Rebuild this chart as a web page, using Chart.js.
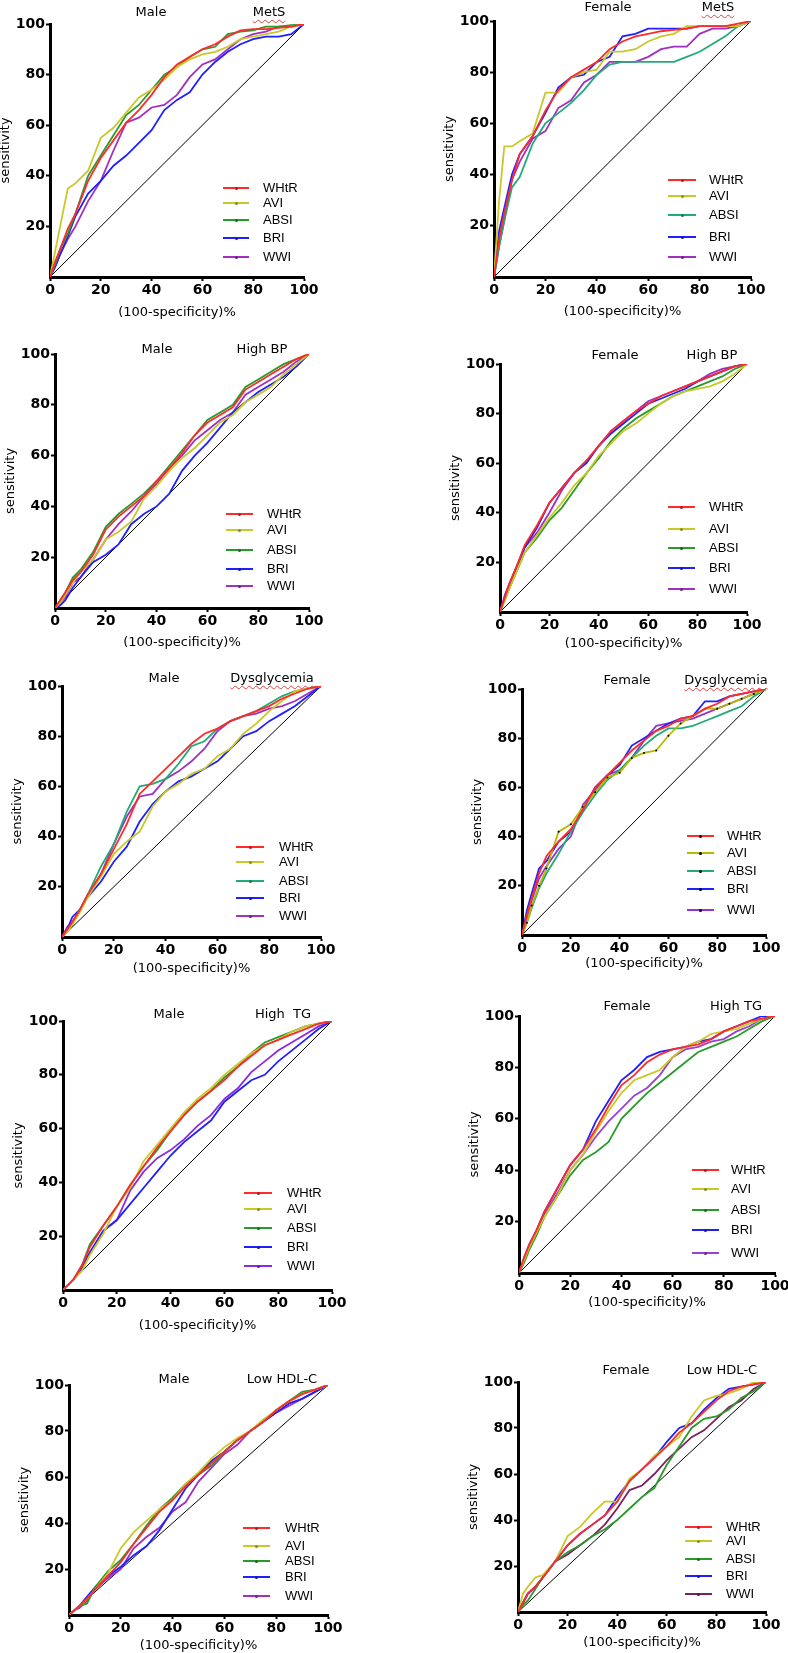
<!DOCTYPE html>
<html><head><meta charset="utf-8">
<script src="https://cdn.jsdelivr.net/npm/chart.js@4.4.1/dist/chart.umd.min.js"></script>
<style>
html,body{margin:0;padding:0;background:#fff;width:788px;height:1653px;overflow:hidden;position:relative}
.cv{position:absolute}
.t{position:absolute;transform:translate(-50%,-50%);font:13px "DejaVu Sans";white-space:pre;color:#000}
.wavy{text-decoration:underline wavy #e04040;text-decoration-thickness:1px;text-underline-offset:3px}
.lg{position:absolute;height:2px}
.dot{position:absolute;width:3px;height:3px;border-radius:50%}
.lt{position:absolute;font:13px "Liberation Sans";line-height:16px;color:#000;white-space:pre}
</style></head><body>
<script>
// ---------- DATA ----------
const X = [0,2,4,7,10,15,20,25,30,35,40,45,50,55,60,65,70,75,80,85,90,95,100];
const seriesNames = ['WHtR','AVI','ABSI','BRI','WWI'];
const xTicks = [0,20,40,60,80,100];
const yTicks = [20,40,60,80,100];

// Male MetS
const mMetS_WHtR = [0,6,11,19,25,38,47,54,61,66,72,79,84,87,90,92,95,97.5,98,98,98.5,99,100];
const mMetS_AVI  = [0,10,20,35,37,42,55,59,65,71,74,78,83,86,88,89,91,94,95,96,97,99,100];
const mMetS_ABSI = [0,5,11,17,25,40,48,56,64,68,74,80,83,87,90,91,96,97,97.5,99,99,99.5,100];
const mMetS_BRI  = [0,4,9,16,24,33,38,44,48,53,58,66,70,73,80,85,89,92,94,95,95,96,100];
const mMetS_WWI  = [0,4,9,15,20,30,38,50,61,63,67,68,72,79,84,86,90,94,96,97,99,99,100];
// Female MetS
const fMetS_WHtR = [0,15,25,38,48,55,65,73,78,81,84,89,92,94,95,96,96.5,97,98,98,98,99,100];
const fMetS_AVI  = [0,30,51,51,53,56,72,72,78,80,81,88,88,89,92,94,95,98,98,98,98,98,100];
const fMetS_ABSI = [0,12,22,35,39,52,60,64,68,73,79,83,84,84,84,84,84,86,88,91,94,98,100];
const fMetS_BRI  = [0,18,27,40,48,55,64,74,78,79,84,86,94,95,97,97,97,97,98,98,98,98,100];
const fMetS_WWI  = [0,12,22,38,45,54,57,66,69,76,79,84,84,84,86,89,90,90,95,97,97,98,100];
// Male High BP
const mBP_WHtR = [0,3,6,11,14,21,31,36,40,44,50,55,61,68,73,76,79,86,89,92,95,98,100];
const mBP_AVI  = [0,2,5,10,14,19,27,30,34,43,48,54,59,63,68,73,76,81,84,87,92,96,100];
const mBP_ABSI = [0,3,6,12,15,22,32,37,41,45,50,56,62,68,74,77,80,87,90,93,96,98,100];
const mBP_BRI  = [0,1,3,8,12,18,21,25,33,37,40,45,54,60,65,71,77,81,85,88,91,95,100];
const mBP_WWI  = [0,2,4,10,12,19,27,33,38,44,49,55,60,66,70,74,77,84,87,90,93,97,100];
// Female High BP
const fBP_WHtR = [0,6,12,19,27,35,44,50,56,61,67,73,77,81,84,87,89,91,93,95,97,99,100];
const fBP_AVI  = [0,5,10,17,24,31,38,44,51,56,63,68,73,76,80,84,87,89,90,91,93,96,100];
const fBP_ABSI = [0,5,10,17,24,30,37,42,49,56,62,69,74,78,81,84,87,89,91,93,95,98,100];
const fBP_BRI  = [0,6,11,18,26,34,44,50,56,60,67,72,76,80,84,86,88,90,93,95,97,99,100];
const fBP_WWI  = [0,7,12,19,26,32,40,49,56,61,67,73,77,81,85,87,89,91,93,96,98,99,100];
// Male Dysglycemia
const mDG_WHtR = [0,3,6,11,17,25,35,45,57,62,67,72,77,81,83,86,88,90,92,95,97,99,100];
const mDG_AVI  = [0,2,5,10,16,24,33,38,42,52,58,61,65,67,72,75,81,85,90,94,98,99,100];
const mDG_ABSI = [0,2,5,11,17,28,37,50,60,61,63,69,76,78,83,86,88,90,93,96,98,99,100];
const mDG_BRI  = [0,3,8,11,16,22,30,36,46,53,58,62,64,67,70,75,80,82,86,89,92,96,100];
const mDG_WWI  = [0,4,6,11,17,25,37,48,56,57,63,66,70,75,82,86,88,89,91,92,94,97,100];
// Female Dysglycemia
const fDG_WHtR = [0,8,15,25,32,38,43,51,60,65,70,75,79,83,85,88,89,92,94,97,98,99,100];
const fDG_AVI  = [0,5,12,20,27,42,45,52,58,64,66,72,74,75,81,86,89,92,92,94,96,98,100];
const fDG_ABSI = [0,5,11,19,25,33,42,50,57,63,67,72,77,81,84,84,85,87,89,91,93,97,100];
const fDG_BRI  = [0,10,17,27,30,38,42,51,60,65,69,77,80,83,86,88,89,95,95,97,98,99,100];
const fDG_WWI  = [0,7,14,23,28,35,40,53,59,65,67,72,79,85,86,87,88,90,92,94,96,98,100];
// Male High TG
const mTG_WHtR = [0,2,4,9,16,24,31,39,46,53,59,65,70,74,78,83,87,91,93,95,97,99,100];
const mTG_AVI  = [0,2,4,7,13,21,31,38,48,54,60,66,71,75,80,84,88,91,93,96,98,99,100];
const mTG_ABSI = [0,2,4,9,17,24,31,39,46,52,59,65,70,74,79,83,88,92,94,96,98,99,100];
const mTG_BRI  = [0,2,4,8,14,22,26,32,38,44,50,55,59,63,70,74,78,80,85,89,93,97,100];
const mTG_WWI  = [0,2,4,9,14,22,26,37,44,49,52,56,61,65,71,75,81,85,89,92,95,98,100];
// Female High TG
const fTG_WHtR = [0,6,11,17,24,33,42,48,56,65,73,77,82,85,87,88,89,91,94,96,98,99,100];
const fTG_AVI  = [0,5,10,16,22,30,40,46,55,63,70,75,77,79,84,88,90,93,94,95,97,99,100];
const fTG_ABSI = [0,4,9,15,22,30,38,44,47,51,60,65,70,74,78,82,86,88,90,92,95,98,100];
const fTG_BRI  = [0,6,11,17,24,33,42,48,59,67,75,79,84,86,87,88,90,91,94,96,98,100,100];
const fTG_WWI  = [0,5,10,16,23,31,40,46,53,59,64,69,72,77,84,87,88,90,91,94,96,99,100];
// Male Low HDL-C
const mHDL_WHtR = [0,2,4,7,11,17,23,31,38,45,50,56,61,66,71,76,80,84,89,93,96,98,100];
const mHDL_AVI  = [0,2,4,7,11,18,29,36,41,46,50,57,62,68,73,77,80,85,89,93,96,98,100];
const mHDL_ABSI = [0,2,4,5,12,19,24,31,39,46,51,57,61,65,71,76,80,84,89,93,97,98,100];
const mHDL_BRI  = [0,2,4,8,12,17,21,26,30,37,46,55,61,67,71,76,80,84,88,92,94,97,100];
const mHDL_WWI  = [0,2,3,6,11,16,20,29,34,38,45,49,58,64,70,74,80,84,88,91,94,97,100];
// Female Low HDL-C
const fHDL_WHtR = [0,4,8,11,15,22,29,34,38,42,48,57,62,67,72,78,82,87,92,96,98,99,100];
const fHDL_AVI  = [0,8,11,15,16,22,33,37,43,48,48,58,62,68,72,76,85,92,94,95,97,100,100];
const fHDL_ABSI = [0,3,5,10,15,22,26,29,33,36,40,45,50,54,64,72,80,84,85,88,93,96,100];
const fHDL_BRI  = [0,4,8,11,15,22,29,34,38,42,50,57,62,67,74,80,82,88,93,97,98,99,100];
const fHDL_WWI  = [0,4,8,11,15,22,25,29,33,38,45,53,55,60,66,71,76,79,84,89,92,97,100];

// ---------- STYLE / LAYOUT ----------
const RED='#ff2a2a', YEL='#c8c82a', GRN='#2a9a2a', TEAL='#22aa77', BLU='#2020ff', PUR='#a030c0';
const panels = [
 {sex:'Male',outcome:'MetS',wavy:true,series:[mMetS_WHtR,mMetS_AVI,mMetS_ABSI,mMetS_BRI,mMetS_WWI],colors:[RED,YEL,GRN,BLU,PUR],
  g:{L:50,R:304,T:24,B:277,ty:11,c1:151,c2:269,xo:35,lx1:223,lx2:249,tx:263,rows:[188,203,220,238,257]}},
 {sex:'Female',outcome:'MetS',wavy:true,series:[fMetS_WHtR,fMetS_AVI,fMetS_ABSI,fMetS_BRI,fMetS_WWI],colors:[RED,YEL,TEAL,BLU,PUR],
  g:{L:494,R:751,T:21,B:277,ty:6,c1:608,c2:718,xo:34,lx1:668,lx2:696,tx:709,rows:[180,196,215,237,257]}},
 {sex:'Male',outcome:'High BP',series:[mBP_WHtR,mBP_AVI,mBP_ABSI,mBP_BRI,mBP_WWI],colors:[RED,YEL,GRN,BLU,PUR],
  g:{L:55,R:309,T:354,B:608,ty:348,c1:157,c2:262,xo:34,lx1:226,lx2:253,tx:267,rows:[514,530,550,569,586]}},
 {sex:'Female',outcome:'High BP',series:[fBP_WHtR,fBP_AVI,fBP_ABSI,fBP_BRI,fBP_WWI],colors:[RED,YEL,GRN,BLU,PUR],
  g:{L:500,R:747,T:364,B:612,ty:354,c1:615,c2:712,xo:31,lx1:668,lx2:695,tx:709,rows:[507,529,548,568,589]}},
 {sex:'Male',outcome:'Dysglycemia',wavy:true,series:[mDG_WHtR,mDG_AVI,mDG_ABSI,mDG_BRI,mDG_WWI],colors:[RED,YEL,TEAL,BLU,PUR],
  g:{L:62,R:321,T:686,B:937,ty:677,c1:164,c2:272,xo:31,lx1:236,lx2:264,tx:279,rows:[847,862,881,898,916]}},
 {sex:'Female',outcome:'Dysglycemia',wavy:true,series:[fDG_WHtR,fDG_AVI,fDG_ABSI,fDG_BRI,fDG_WWI],colors:[RED,'#b8b800',TEAL,BLU,'#9933cc'],blackDots:1,
  g:{L:522,R:766,T:689,B:935,ty:679,c1:627,c2:726,xo:28,lx1:687,lx2:714,tx:727,rows:[836,853,871,889,910]}},
 {sex:'Male',outcome:'High  TG',series:[mTG_WHtR,mTG_AVI,mTG_ABSI,mTG_BRI,mTG_WWI],colors:[RED,YEL,GRN,BLU,'#8a2be2'],
  g:{L:63,R:332,T:1021,B:1290,ty:1013,c1:169,c2:283,xo:35,lx1:244,lx2:272,tx:287,rows:[1193,1209,1228,1247,1266]}},
 {sex:'Female',outcome:'High TG',series:[fTG_WHtR,fTG_AVI,fTG_ABSI,fTG_BRI,fTG_WWI],colors:[RED,YEL,GRN,BLU,'#9b40d0'],
  g:{L:519,R:775,T:1016,B:1273,ty:1005,c1:627,c2:736,xo:29,lx1:692,lx2:719,tx:731,rows:[1170,1189,1210,1230,1253]}},
 {sex:'Male',outcome:'Low HDL-C',series:[mHDL_WHtR,mHDL_AVI,mHDL_ABSI,mHDL_BRI,mHDL_WWI],colors:[RED,YEL,GRN,BLU,PUR],
  g:{L:69,R:328,T:1385,B:1615,ty:1378,c1:174,c2:282,xo:30,lx1:243,lx2:270,tx:285,rows:[1528,1546,1561,1577,1596]}},
 {sex:'Female',outcome:'Low HDL-C',series:[fHDL_WHtR,fHDL_AVI,fHDL_ABSI,fHDL_BRI,fHDL_WWI],colors:[RED,YEL,GRN,BLU,'#7b2060'],
  g:{L:518,R:766,T:1382,B:1612,ty:1369,c1:626,c2:722,xo:30,lx1:685,lx2:712,tx:726,rows:[1527,1541,1559,1576,1594]}}
];

function el(cls, css, text){
  const d=document.createElement('div'); d.className=cls; Object.assign(d.style,css);
  if(text!==undefined) d.textContent=text; document.body.appendChild(d); return d;
}

const tickFont={family:'DejaVu Sans',size:14,weight:'bold'};
const titleFont={family:'DejaVu Sans',size:13};
const gridOpt={drawOnChartArea:false,drawTicks:true,tickLength:4,tickWidth:2,tickColor:'#000'};
const borderOpt={display:true,color:'#000',width:3};

panels.forEach((p,pi)=>{
  const g=p.g, WY=52, PT=12, PR=16, HX=Math.round(g.xo+7.8);
  const w=WY+(g.R-g.L)+PR, h=PT+(g.B-g.T)+HX;
  const cv=document.createElement('canvas');
  cv.width=w; cv.height=h; cv.className='cv';
  Object.assign(cv.style,{left:(g.L-WY)+'px',top:(g.T-PT)+'px',width:w+'px',height:h+'px'});
  document.body.appendChild(cv);

  const datasets=p.series.map((s,i)=>{
    const ds={label:seriesNames[i],data:X.map((x,j)=>({x:x,y:s[j]})),borderColor:p.colors[i],
      borderWidth:1.8,pointRadius:0,fill:false,tension:0};
    if(p.blackDots && i===1){ds.pointRadius=1;ds.pointBackgroundColor='#000';ds.pointBorderWidth=0;ds.pointBorderColor='#000';}
    return ds;
  });
  datasets.push({label:'reference',data:[{x:0,y:0},{x:100,y:100}],borderColor:'#000',borderWidth:1,pointRadius:0,fill:false});

  new Chart(cv,{type:'line',data:{datasets},options:{
    responsive:false,animation:false,devicePixelRatio:1,
    layout:{padding:{top:PT,right:PR,left:0,bottom:0}},
    plugins:{legend:{display:false},tooltip:{enabled:false}},
    scales:{
      x:{type:'linear',min:0,max:100,
        afterBuildTicks:s=>{s.ticks=xTicks.map(v=>({value:v}));},
        afterFit:s=>{s.height=HX;},
        ticks:{font:tickFont,color:'#000',padding:1,maxRotation:0,autoSkip:false},
        grid:gridOpt,border:borderOpt,
        title:{display:true,text:'(100-specificity)%',font:titleFont,color:'#000',padding:0}},
      y:{type:'linear',min:0,max:100,
        afterBuildTicks:s=>{s.ticks=yTicks.map(v=>({value:v}));},
        afterFit:s=>{s.width=WY;},
        ticks:{font:tickFont,color:'#000',padding:1,autoSkip:false},
        grid:gridOpt,border:borderOpt,
        title:{display:true,text:'sensitivity',font:titleFont,color:'#000',padding:0}}
    }
  }});

  el('t',{left:g.c1+'px',top:g.ty+'px'},p.sex);
  const t2=el('t',{left:g.c2+'px',top:g.ty+'px'},p.outcome);
  if(p.wavy) t2.classList.add('wavy');

  seriesNames.forEach((n,i)=>{
    const y=g.rows[i], col=p.colors[i];
    el('lg',{left:g.lx1+'px',top:(y-1)+'px',width:(g.lx2-g.lx1)+'px',background:col});
    el('dot',{left:((g.lx1+g.lx2)/2-1.5)+'px',top:(y-1.5)+'px',background:p.blackDots?'#000':col,filter:'brightness(0.7)'});
    el('lt',{left:g.tx+'px',top:(y-8)+'px'},n);
  });
});
</script>
</body></html>
